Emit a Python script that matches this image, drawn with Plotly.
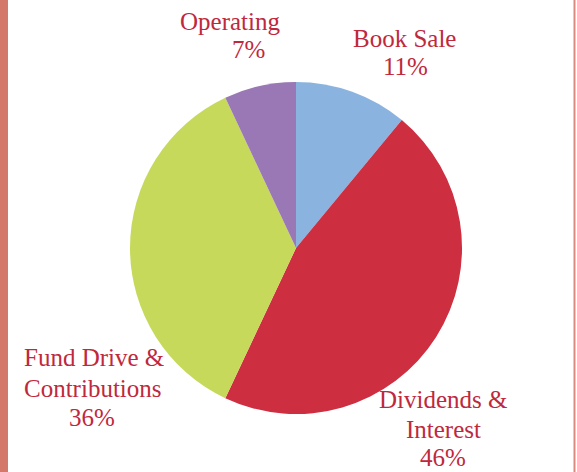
import plotly.graph_objects as go

categories = ["Book Sale", "Dividends & Interest", "Fund Drive & Contributions", "Operating"]
values = [11, 46, 36, 7]
colors = ["#8BB3DF", "#CD2E40", "#C6D95B", "#9A77B5"]

# label lines per category (text) and their pixel positions (layout)
label_lines = {
    "Operating": ["Operating", "7%"],
    "Book Sale": ["Book Sale", "11%"],
    "Fund Drive & Contributions": ["Fund Drive &", "Contributions", "36%"],
    "Dividends & Interest": ["Dividends &", "Interest", "46%"],
}
label_pos = {
    "Operating": [(230, 21), (248, 48)],
    "Book Sale": [(404, 37), (405, 66)],
    "Fund Drive & Contributions": [(94, 356), (93, 387), (92, 416)],
    "Dividends & Interest": [(443, 398), (443, 428), (443, 456)],
}

W, H = 577, 472
TEXT_COLOR = "#C0283C"
FONT = "Liberation Serif"

fig = go.Figure(go.Pie(
    labels=categories,
    values=values,
    sort=False,
    direction="clockwise",
    rotation=0,
    marker=dict(colors=colors, line=dict(width=0)),
    textinfo="none",
    hoverinfo="label+percent",
    showlegend=False,
    domain=dict(x=[130 / W, 462 / W], y=[1 - 414 / H, 1 - 82 / H]),
))

annotations = []
for cat in categories:
    for txt, (px, py) in zip(label_lines[cat], label_pos[cat]):
        annotations.append(dict(
            text=txt, x=px / W, y=1 - (py + 1) / H, xref="paper", yref="paper",
            xanchor="center", yanchor="middle", showarrow=False,
            font=dict(family=FONT, size=25, color=TEXT_COLOR),
        ))

shapes = [
    dict(type="rect", xref="paper", yref="paper", x0=0, x1=8 / W, y0=0, y1=1,
         fillcolor="#D4786C", line=dict(width=0), layer="below"),
    dict(type="rect", xref="paper", yref="paper", x0=573.5 / W, x1=575.5 / W, y0=0, y1=1,
         fillcolor="#DC8A80", line=dict(width=0), layer="below"),
]

fig.update_layout(
    width=W, height=H,
    margin=dict(l=0, r=0, t=0, b=0),
    paper_bgcolor="white", plot_bgcolor="white",
    annotations=annotations,
    shapes=shapes,
)

fig.write_html("out.html", config={"displayModeBar": False},
               post_script="document.body.style.margin='0';")
